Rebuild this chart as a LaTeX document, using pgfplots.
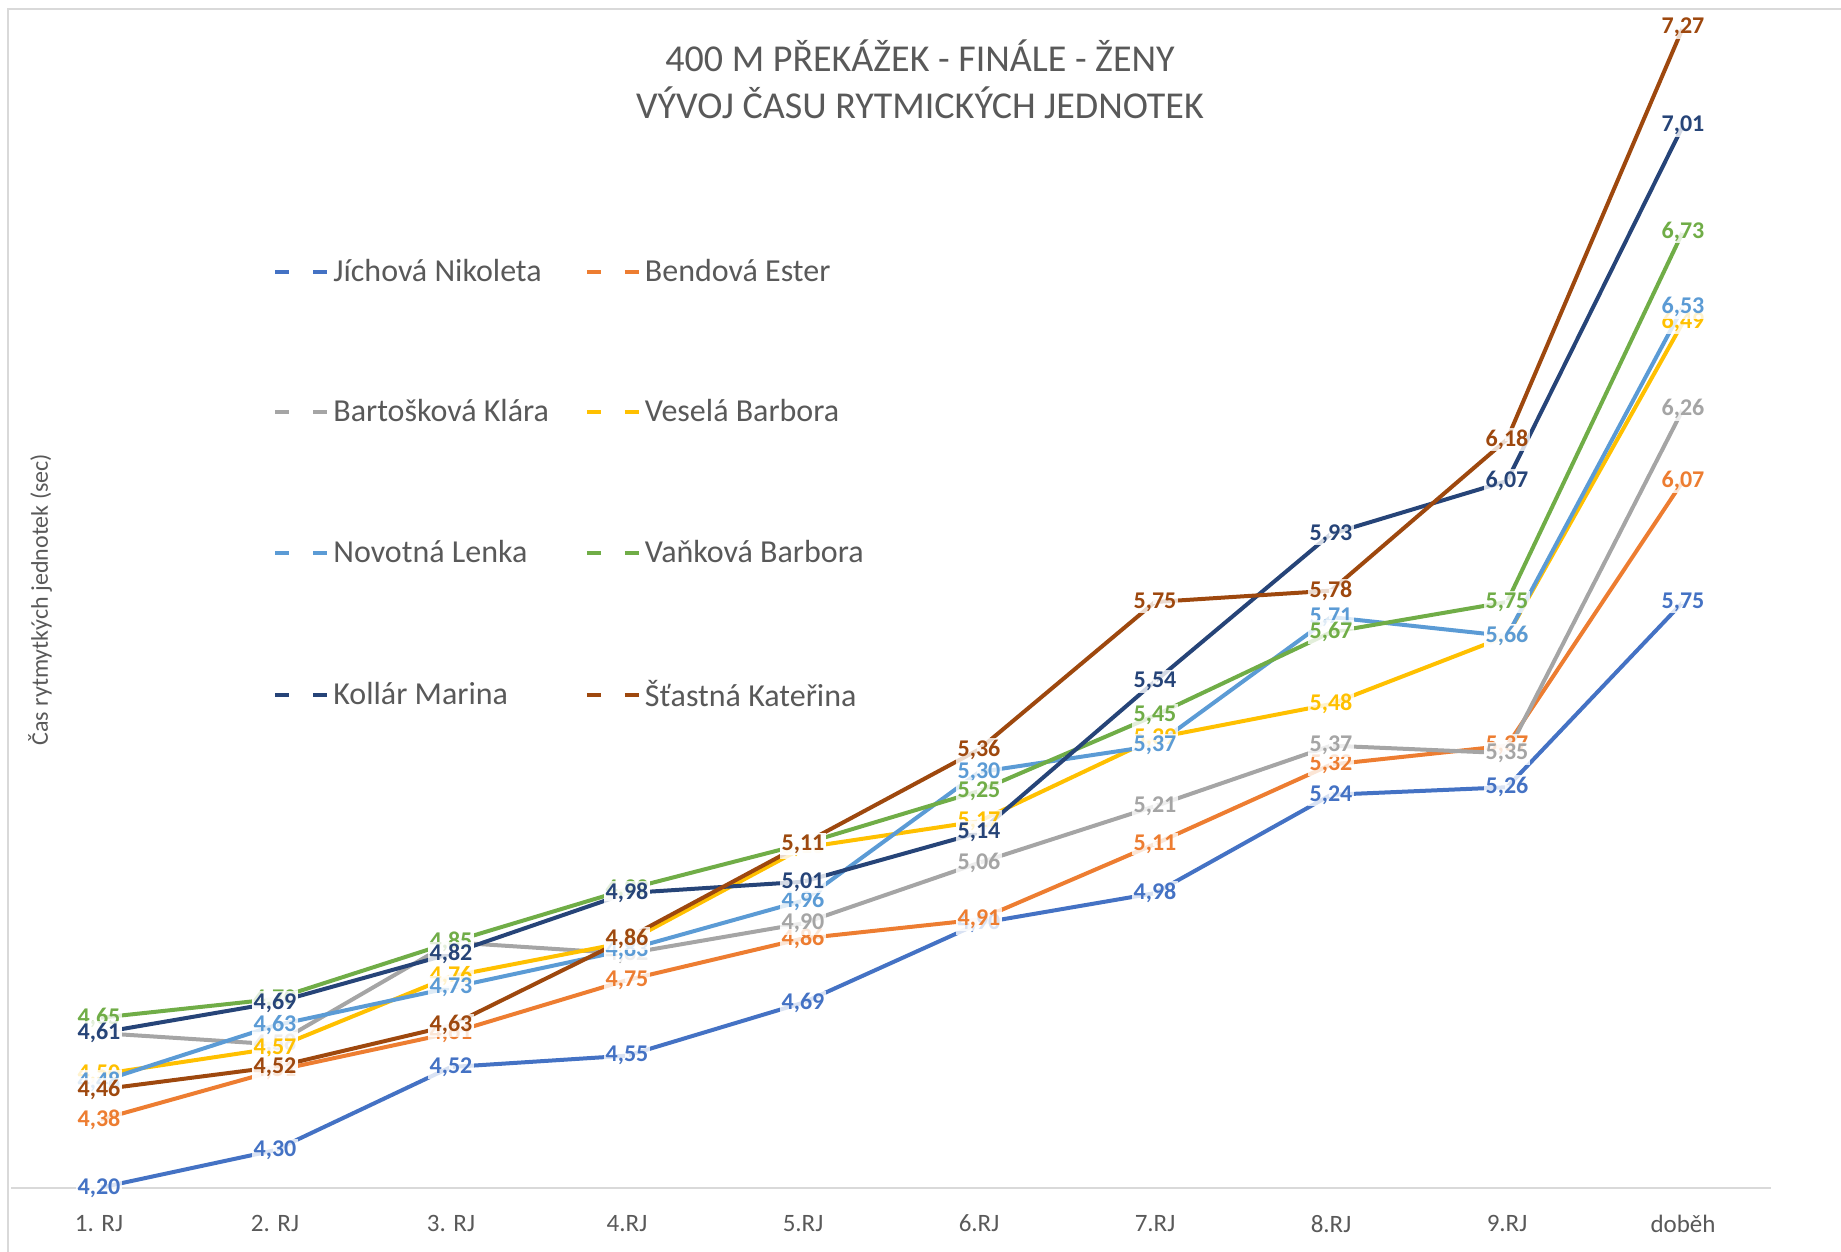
\documentclass[border=0pt]{standalone}
\usepackage{fontspec}
\setmainfont{Carlito}
\usepackage{pgfplots}
\pgfplotsset{compat=1.18}
\usepackage{pgfplotstable}
\definecolor{c1}{HTML}{4472C4}
\definecolor{c2}{HTML}{ED7D31}
\definecolor{c3}{HTML}{A5A5A5}
\definecolor{c4}{HTML}{FFC000}
\definecolor{c5}{HTML}{5B9BD5}
\definecolor{c6}{HTML}{70AD47}
\definecolor{c7}{HTML}{264478}
\definecolor{c8}{HTML}{9E480E}
\definecolor{txt}{HTML}{595959}
\definecolor{gridc}{HTML}{D9D9D9}

\pgfplotstableread{
x jich bend bart ves nov van kol sta
0 4.20 4.38 4.61 4.50 4.48 4.65 4.61 4.46
1 4.30 4.51 4.58 4.57 4.63 4.70 4.69 4.52
2 4.52 4.61 4.85 4.76 4.73 4.85 4.82 4.63
3 4.55 4.75 4.82 4.85 4.83 4.99 4.98 4.86
4 4.69 4.86 4.90 5.10 4.96 5.11 5.01 5.11
5 4.90 4.91 5.06 5.17 5.30 5.25 5.14 5.36
6 4.98 5.11 5.21 5.39 5.37 5.45 5.54 5.75
7 5.24 5.32 5.37 5.48 5.71 5.67 5.93 5.78
8 5.26 5.37 5.35 5.66 5.66 5.75 6.07 6.18
9 5.75 6.07 6.26 6.49 6.53 6.73 7.01 7.27
}\data

\begin{document}
\begin{tikzpicture}
\useasboundingbox (-5.5pt,-32pt) rectangle (915pt,594pt);
\draw[gridc, line width=1pt] (-1.5pt,-32pt) -- (-1.5pt,589.5pt) -- (915pt,589.5pt);
\begin{axis}[
  scale only axis, width=880pt, height=586pt,
  xmin=-0.5, xmax=9.5, ymin=4.2, ymax=7.3,
  axis x line*=bottom, axis y line*=left,
  x axis line style={draw=gridc, line width=1pt, -},
  y axis line style={draw=none},
  ytick=\empty,
  xtick={0,...,9},
  xticklabels={1. RJ,2. RJ,3. RJ,4.RJ,5.RJ,6.RJ,7.RJ,8.RJ,9.RJ,doběh},
  major tick length=0pt,
  xticklabel style={font=\fontsize{12.5}{12.5}\selectfont, text=txt, yshift=-10pt},
  ylabel={Čas rytmytkých jednotek (sec)},
  ylabel style={at={(axis description cs:0.0165,0.502)}, anchor=center, font=\fontsize{12}{12}\selectfont, text=txt},
  no markers,
  clip=false,
  every axis plot/.append style={line width=2pt},
  nodes near coords={\pgfmathprintnumber[fixed, fixed zerofill, precision=2, use comma, assume math mode=true]{\pgfplotspointmeta}},
  every node near coord/.append style={anchor=center, font=\bfseries\fontsize{12}{12}\selectfont, fill=white, fill opacity=0.8, text opacity=1, inner sep=1pt},
  legend columns=2,
  legend cell align=left,
  legend image code/.code={%
    \draw[#1, line width=2pt] (0pt,0pt) -- (7pt,0pt);
    \draw[#1, line width=2pt] (19pt,0pt) -- (26pt,0pt);},
  legend style={draw=none, fill=none, font=\fontsize{16}{16}\selectfont, text=txt,
    at={(axis cs:-0.5,4.2)}, anchor=north west, xshift=128pt, yshift=468.6pt,
    row sep=53.6pt, /tikz/every even column/.append style={column sep=16pt}},
]
\addplot[c1, nodes near coords=] table[x=x,y=jich]{\data};
\addlegendentry{Jíchová Nikoleta}
\addplot[c2, nodes near coords=] table[x=x,y=bend]{\data};
\addlegendentry{Bendová Ester}
\addplot[c3, nodes near coords=] table[x=x,y=bart]{\data};
\addlegendentry{Bartošková Klára}
\addplot[c4, nodes near coords=] table[x=x,y=ves]{\data};
\addlegendentry{Veselá Barbora}
\addplot[c5, nodes near coords=] table[x=x,y=nov]{\data};
\addlegendentry{Novotná Lenka}
\addplot[c6, nodes near coords=] table[x=x,y=van]{\data};
\addlegendentry{Vaňková Barbora}
\addplot[c7, nodes near coords=] table[x=x,y=kol]{\data};
\addlegendentry{Kollár Marina}
\addplot[c8, nodes near coords=] table[x=x,y=sta]{\data};
\addlegendentry{Šťastná Kateřina}

\addplot[c1, draw=none, forget plot] table[x=x,y=jich]{\data};
\addplot[c2, draw=none, forget plot] table[x=x,y=bend]{\data};
\addplot[c3, draw=none, forget plot] table[x=x,y=bart]{\data};
\addplot[c4, draw=none, forget plot] table[x=x,y=ves]{\data};
\addplot[c5, draw=none, forget plot] table[x=x,y=nov]{\data};
\addplot[c6, draw=none, forget plot] table[x=x,y=van]{\data};
\addplot[c7, draw=none, forget plot] table[x=x,y=kol]{\data};
\addplot[c8, draw=none, forget plot] table[x=x,y=sta]{\data};
\end{axis}
\node[font=\fontsize{19}{23.5}\selectfont, text=txt, align=center] at (454.5pt,554.25pt)
  {400 M PŘEKÁŽEK - FINÁLE - ŽENY\\VÝVOJ ČASU RYTMICKÝCH JEDNOTEK};
\end{tikzpicture}
\end{document}
